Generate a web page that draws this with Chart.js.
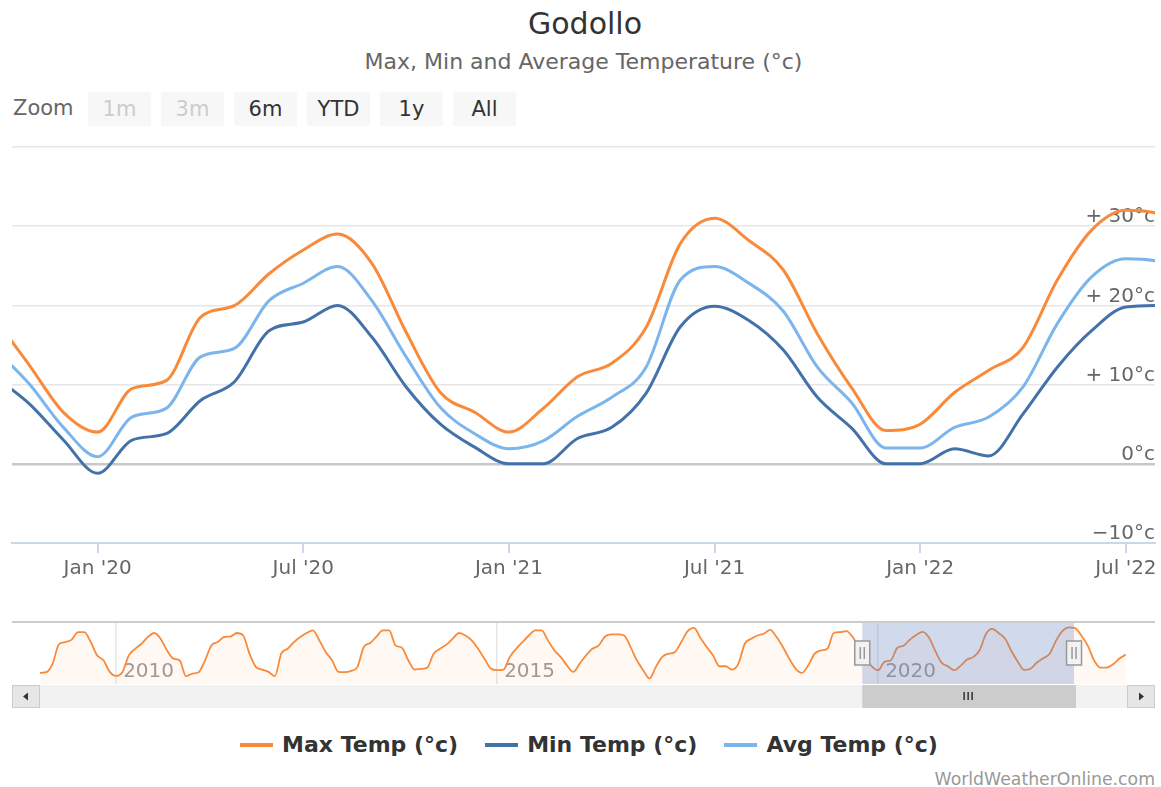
<!DOCTYPE html>
<html>
<head>
<meta charset="utf-8">
<script src="https://cdn.jsdelivr.net/npm/chart.js@4.4.0/dist/chart.umd.min.js"></script>
<style>
  html, body { margin: 0; padding: 0; background: #fff; }
  body { width: 1161px; height: 787px; position: relative; overflow: hidden; font-family: "DejaVu Sans", sans-serif; }
  .abs { position: absolute; }
  #title { left: 0; width: 1170px; top: 9px; text-align: center; font-size: 30px; line-height: 30px; color: #333; }
  #subtitle { left: 0; width: 1167px; top: 51px; text-align: center; font-size: 22px; line-height: 22px; color: #666; }
  #zoomLabel { left: 13px; top: 98px; font-size: 21px; line-height: 21px; color: #666; }
  .zbtn { top: 92px; width: 63px; height: 34px; line-height: 34px; text-align: center; font-size: 21px;
          background: #f7f7f7; color: #333; border-radius: 2px; }
  .zbtn.off { color: #cccccc; }
  #legend { left: 0; width: 1178px; top: 733px; display: flex; justify-content: center; gap: 27px; }
  .item { display: flex; align-items: center; font-weight: bold; font-size: 22px; line-height: 24px; color: #333; }
  .sym { width: 33px; height: 4px; margin-right: 9px; }
  #credits { right: 6px; top: 770px; font-size: 17.3px; line-height: 18px; color: #999; }
  canvas { position: absolute; left: 0; }
</style>
</head>
<body>
<div id="title" class="abs">Godollo</div>
<div id="subtitle" class="abs">Max, Min and Average Temperature (°c)</div>
<div id="zoomLabel" class="abs">Zoom</div>
<div id="zoomBar"></div>
<canvas id="main" width="1161" height="590" style="top:0"></canvas>
<canvas id="nav" width="1161" height="110" style="top:600px"></canvas>
<div id="legend" class="abs"></div>
<div id="credits" class="abs">WorldWeatherOnline.com</div>
<script>
"use strict";

// month index = months after Jan 2009
const MAX_START = 0;      // MAX_TEMP[0] = Jan 2009
const DETAIL_START = 129; // MIN_TEMP[0], AVG_TEMP[0] = Oct 2019

const MAX_TEMP = [
  2.3, 2.7, 8.3, 21.0, 22.4, 24.0, 28.9, 28.9, 22.4, 13.7, 10.5, 2.9,
  0.3, 2.9, 13.7, 18.0, 21.3, 25.7, 28.3, 24.6, 17.0, 11.6, 10.5, 0.1,
  1.8, 2.7, 10.5, 20.2, 22.4, 25.7, 26.0, 28.3, 26.7, 14.8, 6.2, 4.4,
  2.9, 0.1, 14.8, 18.0, 22.4, 25.7, 28.3, 30.0, 23.5, 15.9, 10.5, 2.9,
  2.7, 3.6, 6.2, 19.2, 21.8, 26.0, 30.0, 30.0, 20.2, 18.7, 10.5, 4.4,
  4.9, 5.7, 14.8, 18.0, 20.7, 24.6, 28.3, 26.7, 23.5, 18.0, 11.6, 5.1,
  4.0, 4.4, 12.7, 18.0, 22.4, 26.7, 30.0, 30.0, 23.5, 17.0, 12.7, 7.2,
  2.9, 8.3, 13.7, 18.0, 20.2, 26.0, 27.4, 27.4, 26.7, 19.2, 10.5, 4.0,
  -1.4, 6.2, 12.7, 14.8, 15.9, 22.4, 29.6, 31.7, 25.2, 19.2, 13.7, 6.6,
  6.6, 4.4, 8.3, 21.3, 24.6, 26.7, 27.8, 30.4, 25.7, 19.2, 11.6, 5.1,
  2.3, 7.2, 14.8, 17.0, 18.0, 28.3, 28.9, 29.6, 25.7, 18.5, 12.5, 6.5,
  4.0, 9.5, 10.5, 18.5, 20.0, 24.0, 27.0, 29.0, 25.3, 16.6, 9.0, 6.5,
  4.0, 7.0, 11.0, 12.7, 17.2, 27.8, 31.0, 28.2, 24.5, 16.4, 9.6, 4.2,
  5.0, 9.0, 11.8, 14.7, 23.2, 29.5, 32.0, 31.5, 26.7, 20.2, 10.5, 5.7,
  5.7, 7.9, 11.6, 14.2
];

const MIN_TEMP = [
  11.0, 7.6, 3.0,
  -1.2, 3.0, 3.8, 8.0, 10.4, 16.8, 17.9, 20.0, 16.0, 9.7, 5.0, 2.1,
  0.0, 0.0, 3.2, 4.6, 8.9, 17.3, 19.9, 18.1, 14.4, 8.4, 4.5, 0.0,
  0.0, 1.9, 1.0, 6.3, 12.2, 16.8, 19.8, 20.0, 16.5
];

const AVG_TEMP = [
  14.5, 10.1, 4.6,
  0.9, 5.9, 7.0, 13.5, 14.6, 20.6, 22.8, 24.9, 20.6, 13.5, 7.1, 3.8,
  1.9, 2.9, 6.0, 8.4, 12.2, 23.2, 24.9, 22.8, 19.3, 12.2, 7.7, 2.0,
  2.0, 4.6, 5.9, 9.7, 17.7, 23.6, 25.9, 25.5, 21.5
];

const VIEW_FROM = 129.5;   // mid Oct 2019
const VIEW_TO = 162.85;    // late Jul 2022
const X_TICKS = [132, 138, 144, 150, 156, 162];
const X_TICK_LABELS = ["Jan '20", "Jul '20", "Jan '21", "Jul '21", "Jan '22", "Jul '22"];
const Y_TICKS = [-10, 0, 10, 20, 30, 40];
const Y_TICK_LABELS = ["\u221210°c", "0°c", "+ 10°c", "+ 20°c", "+ 30°c", ""];
const NAV_TICKS = [12, 72, 132];
const NAV_TICK_LABELS = ["2010", "2015", "2020"];
const ZOOM_BUTTONS = ["1m", "3m", "6m", "YTD", "1y", "All"];
const ZOOM_DISABLED = ["1m", "3m"];

const SERIES_NAMES = ["Max Temp (°c)", "Min Temp (°c)", "Avg Temp (°c)"];
const COLORS = ["#f98a3a", "#4371a9", "#7cb5ec"];
const FONT = "'DejaVu Sans', sans-serif";

function toPoints(values, start) {
  return values.map((v, i) => ({ x: start + i, y: v }));
}

function lineSet(label, values, start, color) {
  return {
    label,
    data: toPoints(values, start),
    borderColor: color,
    backgroundColor: color,
    borderWidth: 3,
    pointRadius: 0,
    cubicInterpolationMode: "monotone",
    clip: 0,
  };
}

// zoom buttons
const zoomBar = document.getElementById("zoomBar");
ZOOM_BUTTONS.forEach((name, i) => {
  const b = document.createElement("div");
  b.className = "abs zbtn" + (ZOOM_DISABLED.includes(name) ? " off" : "");
  b.style.left = (88 + i * 73) + "px";
  b.textContent = name;
  zoomBar.appendChild(b);
});

const mainChart = new Chart(document.getElementById("main"), {
  type: "line",
  data: {
    datasets: [
      lineSet(SERIES_NAMES[0], MAX_TEMP, MAX_START, COLORS[0]),
      lineSet(SERIES_NAMES[1], MIN_TEMP, DETAIL_START, COLORS[1]),
      lineSet(SERIES_NAMES[2], AVG_TEMP, DETAIL_START, COLORS[2]),
    ],
  },
  options: {
    responsive: false,
    animation: false,
    events: [],
    layout: { padding: { left: 12, right: 6, top: 147, bottom: 5 } },
    elements: { line: { capBezierPoints: false, borderCapStyle: "round", borderJoinStyle: "round" } },
    scales: {
      x: {
        type: "linear",
        min: VIEW_FROM,
        max: VIEW_TO,
        afterBuildTicks: (s) => { s.ticks = X_TICKS.map((v) => ({ value: v })); },
        afterFit: (s) => { s.paddingLeft = 0; s.paddingRight = 0; },
        ticks: {
          callback: (v) => X_TICK_LABELS[X_TICKS.indexOf(v)] || "",
          color: "#666",
          font: { family: FONT, size: 20 },
          padding: 4,
          maxRotation: 0,
          autoSkip: false,
        },
        grid: { drawOnChartArea: false, drawTicks: true, tickLength: 10, color: "#ccd6eb", lineWidth: 2 },
        border: { display: true, color: "#ccd6eb", width: 2 },
      },
      y: {
        position: "right",
        min: -10,
        max: 40,
        afterBuildTicks: (s) => { s.ticks = Y_TICKS.map((v) => ({ value: v })); },
        ticks: {
          mirror: true,
          padding: 0,
          labelOffset: -9,
          callback: (v) => Y_TICK_LABELS[Y_TICKS.indexOf(v)],
          color: "#666",
          font: { family: FONT, size: 20 },
        },
        grid: {
          drawTicks: false,
          color: (c) => (c.tick && c.tick.value === 0 ? "#c8c8c8" : c.tick && c.tick.value === -10 ? "#ccd6eb" : "#e6e6e6"),
          lineWidth: (c) => (c.tick && c.tick.value === 0 ? 2.5 : 1.5),
        },
        border: { display: false },
      },
    },
    plugins: { legend: { display: false }, tooltip: { enabled: false } },
  },
});

const navigatorDecor = {
  id: "navigatorDecor",
  afterDatasetsDraw(chart) {
    const { ctx, chartArea: a, scales: { x } } = chart;
    const x1 = x.getPixelForValue(VIEW_FROM);
    const x2 = x.getPixelForValue(VIEW_TO);
    ctx.save();
    // selected range mask
    ctx.fillStyle = "rgba(102, 133, 194, 0.3)";
    ctx.fillRect(x1, a.top, x2 - x1, a.bottom - a.top);
    // outline
    ctx.strokeStyle = "#cccccc";
    ctx.lineWidth = 2;
    ctx.beginPath();
    ctx.moveTo(a.left, a.top);
    ctx.lineTo(a.right, a.top);
    ctx.stroke();
    // handles
    const cy = (a.top + a.bottom) / 2;
    [x1, x2].forEach((hx) => {
      ctx.fillStyle = "#f2f2f2";
      ctx.strokeStyle = "#999999";
      ctx.lineWidth = 1.5;
      ctx.fillRect(hx - 7.5, cy - 12, 15, 24);
      ctx.strokeRect(hx - 7.5, cy - 12, 15, 24);
      ctx.beginPath();
      ctx.moveTo(hx - 2, cy - 6);
      ctx.lineTo(hx - 2, cy + 6);
      ctx.moveTo(hx + 2, cy - 6);
      ctx.lineTo(hx + 2, cy + 6);
      ctx.stroke();
    });
    // scrollbar
    const sy = a.bottom + 1;
    const sh = 23;
    ctx.fillStyle = "#f2f2f2";
    ctx.fillRect(a.left, sy, a.right - a.left, sh);
    ctx.fillStyle = "#cccccc";
    ctx.fillRect(x1, sy, x2 - x1 + 2, sh);
    const gx = (x1 + x2) / 2;
    ctx.strokeStyle = "#333333";
    ctx.lineWidth = 1.5;
    ctx.beginPath();
    [-4, 0, 4].forEach((d) => {
      ctx.moveTo(gx + d, sy + 7);
      ctx.lineTo(gx + d, sy + 15);
    });
    ctx.stroke();
    // arrow buttons
    [[a.left, -1], [a.right - 28, 1]].forEach(([bx, dir]) => {
      ctx.fillStyle = "#e6e6e6";
      ctx.strokeStyle = "#cccccc";
      ctx.lineWidth = 1;
      ctx.fillRect(bx, sy, 28, sh);
      ctx.strokeRect(bx + 0.5, sy + 0.5, 27, sh - 1);
      const ax = bx + 14;
      const ay = sy + sh / 2;
      ctx.fillStyle = "#333333";
      ctx.beginPath();
      ctx.moveTo(ax + 3 * dir, ay);
      ctx.lineTo(ax - 2 * dir, ay - 4);
      ctx.lineTo(ax - 2 * dir, ay + 4);
      ctx.closePath();
      ctx.fill();
    });
    ctx.restore();
  },
};

const navChart = new Chart(document.getElementById("nav"), {
  type: "line",
  data: {
    datasets: [{
      label: SERIES_NAMES[0],
      data: toPoints(MAX_TEMP, MAX_START),
      borderColor: COLORS[0],
      backgroundColor: "rgba(249, 138, 58, 0.06)",
      borderWidth: 1.8,
      pointRadius: 0,
      fill: "start",
      cubicInterpolationMode: "monotone",
    }],
  },
  options: {
    responsive: false,
    animation: false,
    events: [],
    layout: { padding: { left: 12, right: 6, top: 22, bottom: 26 } },
    scales: {
      x: {
        type: "linear",
        min: -4.4,
        max: 175.6,
        afterBuildTicks: (s) => { s.ticks = NAV_TICKS.map((v) => ({ value: v })); },
        afterFit: (s) => { s.paddingLeft = 0; s.paddingRight = 0; },
        ticks: {
          mirror: true,
          align: "start",
          padding: 0,
          labelOffset: 7,
          callback: (v) => NAV_TICK_LABELS[NAV_TICKS.indexOf(v)] || "",
          color: "#999999",
          font: { family: FONT, size: 20 },
          maxRotation: 0,
          autoSkip: false,
        },
        grid: { drawTicks: false, color: "#e6e6e6", lineWidth: 1.5 },
        border: { display: false },
      },
      y: { display: false, min: -5, max: 35.5 },
    },
    plugins: { legend: { display: false }, tooltip: { enabled: false } },
  },
  plugins: [navigatorDecor],
});

// legend
const legend = document.getElementById("legend");
mainChart.data.datasets.forEach((ds) => {
  const item = document.createElement("div");
  item.className = "item";
  const sym = document.createElement("span");
  sym.className = "sym";
  sym.style.background = ds.borderColor;
  item.appendChild(sym);
  item.appendChild(document.createTextNode(ds.label));
  legend.appendChild(item);
});
</script>
</body>
</html>
